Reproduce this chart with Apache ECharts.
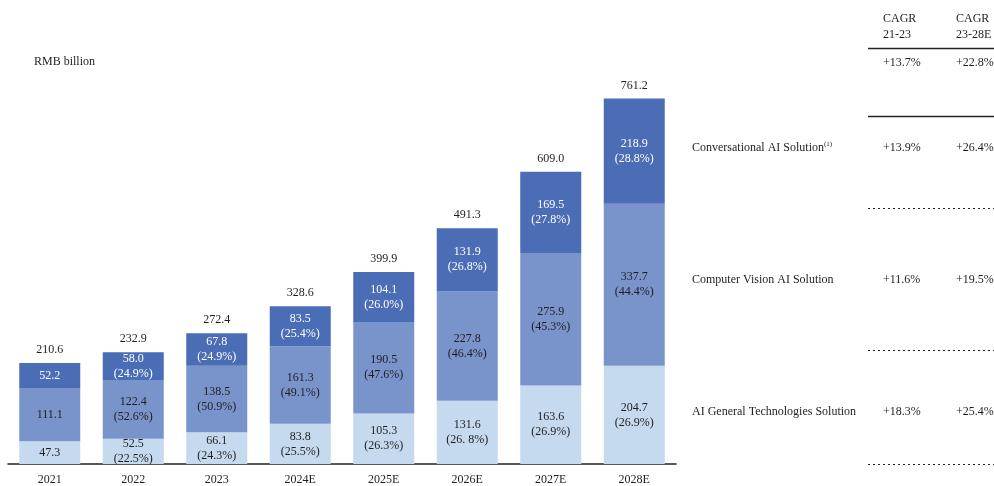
<!DOCTYPE html>
<html>
<head>
<meta charset="utf-8">
<script src="https://cdn.jsdelivr.net/npm/echarts@6/dist/echarts.min.js"></script>
<style>
html,body{margin:0;padding:0;background:#fff;}
#c{width:994px;height:486px;}
</style>
</head>
<body>
<div id="c"></div>
<script>
// ---- data ----
const categories = ['2021', '2022', '2023', '2024E', '2025E', '2026E', '2027E', '2028E'];
const generalTech = [47.3, 52.5, 66.1, 83.8, 105.3, 131.6, 163.6, 204.7];
const computerVision = [111.1, 122.4, 138.5, 161.3, 190.5, 227.8, 275.9, 337.7];
const conversational = [52.2, 58.0, 67.8, 83.5, 104.1, 131.9, 169.5, 218.9];
const totals = [210.6, 232.9, 272.4, 328.6, 399.9, 491.3, 609.0, 761.2];
const generalPct = ['', '(22.5%)', '(24.3%)', '(25.5%)', '(26.3%)', '(26. 8%)', '(26.9%)', '(26.9%)'];
const visionPct = ['', '(52.6%)', '(50.9%)', '(49.1%)', '(47.6%)', '(46.4%)', '(45.3%)', '(44.4%)'];
const convPct = ['', '(24.9%)', '(24.9%)', '(25.4%)', '(26.0%)', '(26.8%)', '(27.8%)', '(28.8%)'];

const cagrHeaders = [['CAGR', '21-23'], ['CAGR', '23-28E']];
const totalCagr = ['+13.7%', '+22.8%'];
const segmentNames = ['Conversational AI Solution', 'Computer Vision AI Solution', 'AI General Technologies Solution'];
const cagr2123 = ['+13.9%', '+11.6%', '+18.3%'];
const cagr2328 = ['+26.4%', '+19.5%', '+25.4%'];

// ---- style ----
const FONT = '"Liberation Serif", "Times New Roman", serif';
const FS = 12;
const TXT = '#1e1e1e';
const C_LIGHT = '#c5d9ef';
const C_MID = '#7994cb';
const C_DARK = '#4a6db6';

function fmt(pcts) {
  return function (p) {
    const v = p.value.toFixed(1);
    const pc = pcts[p.dataIndex];
    return pc ? v + '\n' + pc : v;
  };
}
const lblBase = { show: true, position: 'inside', fontFamily: FONT, fontSize: FS, lineHeight: 15 };

const chart = echarts.init(document.getElementById('c'));

const graphics = [];
function txt(x, y, s, opts) {
  graphics.push(Object.assign({
    type: 'text', x: x, y: y,
    style: Object.assign({ text: s, font: FS + 'px ' + FONT, fill: TXT, textVerticalAlign: 'middle' }, opts || {})
  }));
}
function hline(x1, x2, y, dashed, w) {
  graphics.push({
    type: 'line',
    shape: { x1: x1, y1: y, x2: x2, y2: y },
    style: { stroke: '#222', lineWidth: w || 1, lineDash: dashed ? [2, 3] : null }
  });
}
txt(34, 62, 'RMB billion');
const colX = [883, 956];
cagrHeaders.forEach((h, i) => {
  txt(colX[i], 19, h[0]);
  txt(colX[i], 35, h[1]);
  txt(colX[i], 63, totalCagr[i]);
});
hline(868, 994, 48.5, false, 1.5);
hline(868, 994, 116.5, false, 1.5);
const rowY = [148, 280, 412];
segmentNames.forEach((n, i) => {
  if (i === 0) {
    graphics.push({
      type: 'text', x: 692, y: rowY[i],
      style: {
        text: '{a|' + n + '}{s|(1)}',
        textVerticalAlign: 'middle',
        rich: {
          a: { fontFamily: FONT, fontSize: FS, fill: TXT },
          s: { fontFamily: FONT, fontSize: 7, fill: TXT, verticalAlign: 'top', padding: [0, 0, 7, 0] }
        }
      }
    });
  } else {
    txt(692, rowY[i], n);
  }
  txt(colX[0], rowY[i], cagr2123[i]);
  txt(colX[1], rowY[i], cagr2328[i]);
});
hline(868, 994, 208.5, true);
hline(868, 994, 350.5, true);
hline(868, 994, 464.5, true);

chart.setOption({
  animation: false,
  grid: { left: 8, right: 318, top: 80, bottom: 22 },
  xAxis: {
    type: 'category', data: categories,
    axisLine: { lineStyle: { color: '#222', width: 1.5 } },
    axisTick: { show: false },
    axisLabel: { fontFamily: FONT, fontSize: FS, color: TXT, margin: 10 }
  },
  yAxis: { type: 'value', min: 0, max: 800, show: false, splitLine: { show: false } },
  series: [
    { name: 'AI General Technologies Solution', type: 'bar', stack: 't', barWidth: 61, data: generalTech,
      itemStyle: { color: C_LIGHT }, label: Object.assign({}, lblBase, { color: TXT, formatter: fmt(generalPct) }) },
    { name: 'Computer Vision AI Solution', type: 'bar', stack: 't', data: computerVision,
      itemStyle: { color: C_MID }, label: Object.assign({}, lblBase, { color: TXT, formatter: fmt(visionPct) }) },
    { name: 'Conversational AI Solution', type: 'bar', stack: 't', data: conversational,
      itemStyle: { color: C_DARK }, label: Object.assign({}, lblBase, { color: '#fff', formatter: fmt(convPct) }) },
    { name: 'Total', type: 'bar', stack: 't', data: totals.map(() => 0),
      itemStyle: { color: 'rgba(0,0,0,0)' },
      label: { show: true, position: 'top', distance: 7, fontFamily: FONT, fontSize: FS, color: TXT,
        formatter: p => totals[p.dataIndex].toFixed(1) } }
  ],
  graphic: graphics
});
</script>
</body>
</html>
